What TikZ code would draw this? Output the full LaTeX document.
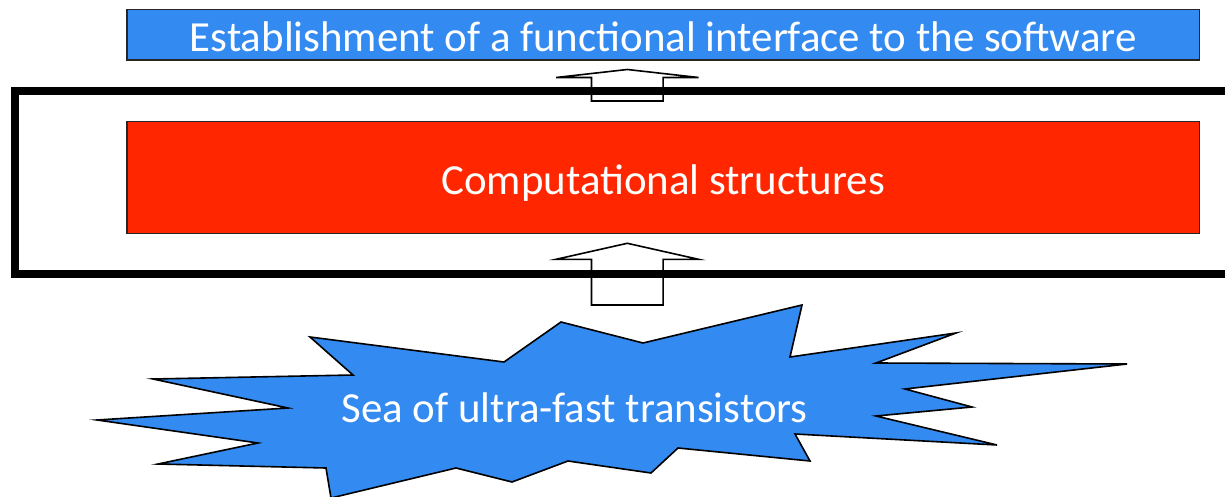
\documentclass[tikz,border=0pt]{standalone}
\usepackage{fontspec}
\setmainfont{Carlito}
\definecolor{layerblue}{RGB}{51,138,240}
\definecolor{layerred}{RGB}{255,38,0}

\newcommand\liftarrow[4]{%
  \draw[liftline] (#1-35.8,#4) -- (#1-35.8,#3) -- (#1-71.2,#3) -- (#1,#2)
    -- (#1+71.2,#3) -- (#1+35.8,#3) -- (#1+35.8,#4) -- cycle;}

\begin{document}
\begin{tikzpicture}[
  x=1pt, y=-1pt,
  every node/.style={
    inner sep=0pt,
    text=white,
    font=\fontsize{42.9}{50}\selectfont,
  },
  layer/.style={
    draw=black!85,
    line width=1.6pt,
    minimum width=1072.5pt,
    text depth=0pt,
  },
  burst/.style={draw,fill=layerblue,line width=1.6pt},
  liftline/.style={draw,line width=1.6pt},
  ]
  \useasboundingbox (0,0) rectangle (1225,497);
  \clip (0,0) rectangle (1225,497);

  \node[draw,line width=8pt,minimum width=1225.3pt,minimum height=183pt]
    (core) at (627.4,182.5) {};
  \node[layer,fill=layerblue,minimum height=50.5pt,text height=34.5pt]
    (iface) at (663.25,34.75)
    {Establishment of a functional interface to the software};
  \node[layer,fill=layerred,minimum height=112pt,text height=34pt]
    (comp) at (663.25,177.5) {Computational structures};

  \draw[burst] (310,337) -- (504,362) -- (561,322) -- (643,343) -- (802,305)
    -- (790,357) -- (956,333) -- (876,363) -- (1127,364) -- (905,389)
    -- (972,407) -- (876,416) -- (997,445) -- (795,434) -- (810,461)
    -- (678,448) -- (651,473) -- (568,461) -- (512,482) -- (456,468)
    -- (331,498) -- (326,468) -- (158,464) -- (258,443) -- (97,420)
    -- (288,408) -- (153,379) -- (353,375) -- cycle;
  \node[anchor=base] (sea) at (574.7,422) {Sea of ultra-fast transistors};

  \liftarrow{627.3}{243.3}{259.3}{305}
  \liftarrow{627.3}{69.5}{77.5}{101}
\end{tikzpicture}
\end{document}
